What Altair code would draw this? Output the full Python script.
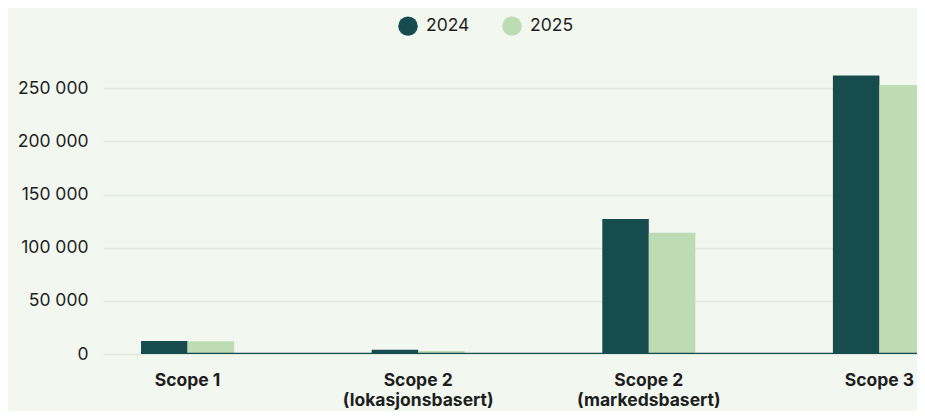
import altair as alt
import pandas as pd

categories = ["Scope 1", "Scope 2\n(lokasjonsbasert)", "Scope 2\n(markedsbasert)", "Scope 3"]
years = ["2024", "2025"]
values_2024 = [12300, 4000, 127000, 262000]
values_2025 = [12100, 2800, 114000, 253000]
y_ticks = [0, 50000, 100000, 150000, 200000, 250000]

colors = ["#174c4f", "#bddcb3"]
bg = "#f2f7f0"
grid = "#dfeadb"
text = "#1e1e1e"
FONT = "Inter"

rows = []
for c, a, b in zip(categories, values_2024, values_2025):
    rows.append({"cat": c, "year": "2024", "value": a})
    rows.append({"cat": c, "year": "2025", "value": b})
df = pd.DataFrame(rows)

W, H = 814, 287
xscale = alt.Scale(domain=categories, range=[0, 861], paddingInner=0.5965, paddingOuter=0.165)
yscale = alt.Scale(domain=[0, 270000], nice=False)

bars = alt.Chart(df).mark_bar(clip=True).encode(
    x=alt.X("cat:N", scale=xscale, sort=categories, title=None,
            axis=alt.Axis(labelExpr="split(datum.label, '\\n')", labelAngle=0,
                          labelFontWeight="bold", labelFontSize=17.5, labelLineHeight=20,
                          labelPadding=17, ticks=False, domain=False, grid=False,
                          labelColor=text, labelFont=FONT)),
    xOffset=alt.XOffset("year:N", scale=alt.Scale(domain=years, paddingInner=0, paddingOuter=0)),
    y=alt.Y("value:Q", scale=yscale, title=None,
            axis=alt.Axis(values=y_ticks, labelExpr="replace(format(datum.value, ','), ',', ' ')",
                          labelFontSize=17.5, labelPadding=15, ticks=False, domain=False,
                          gridColor=grid, gridWidth=1.5, labelColor=text, labelFont=FONT)),
    color=alt.Color("year:N", scale=alt.Scale(domain=years, range=colors), title=None,
                    legend=alt.Legend(orient="none", legendX=295, legendY=-51, direction="horizontal",
                                      symbolType="circle", symbolSize=380, symbolStrokeWidth=0,
                                      labelFontSize=17.5, labelOffset=8, columnPadding=32,
                                      padding=0, labelColor=text, labelFont=FONT)),
)

base_df = pd.DataFrame({"cat": [categories[0]], "zero": [0]})
baseline = alt.Chart(base_df).mark_rule(color=colors[0], strokeWidth=2.5, clip=True).encode(
    x=alt.X("cat:N", scale=xscale, sort=categories, bandPosition=0),
    x2=alt.value(W),
    y=alt.Y("zero:Q", scale=yscale),
)

chart = alt.layer(bars, baseline).properties(
    width=W, height=H,
    autosize=alt.AutoSizeParams(type="none"),
    padding={"left": 95, "top": 59, "right": 0, "bottom": 57},
    background=bg,
).configure(font=FONT).configure_view(stroke=None)

chart.save("out.html", embed_options={"renderer": "svg", "actions": False})
